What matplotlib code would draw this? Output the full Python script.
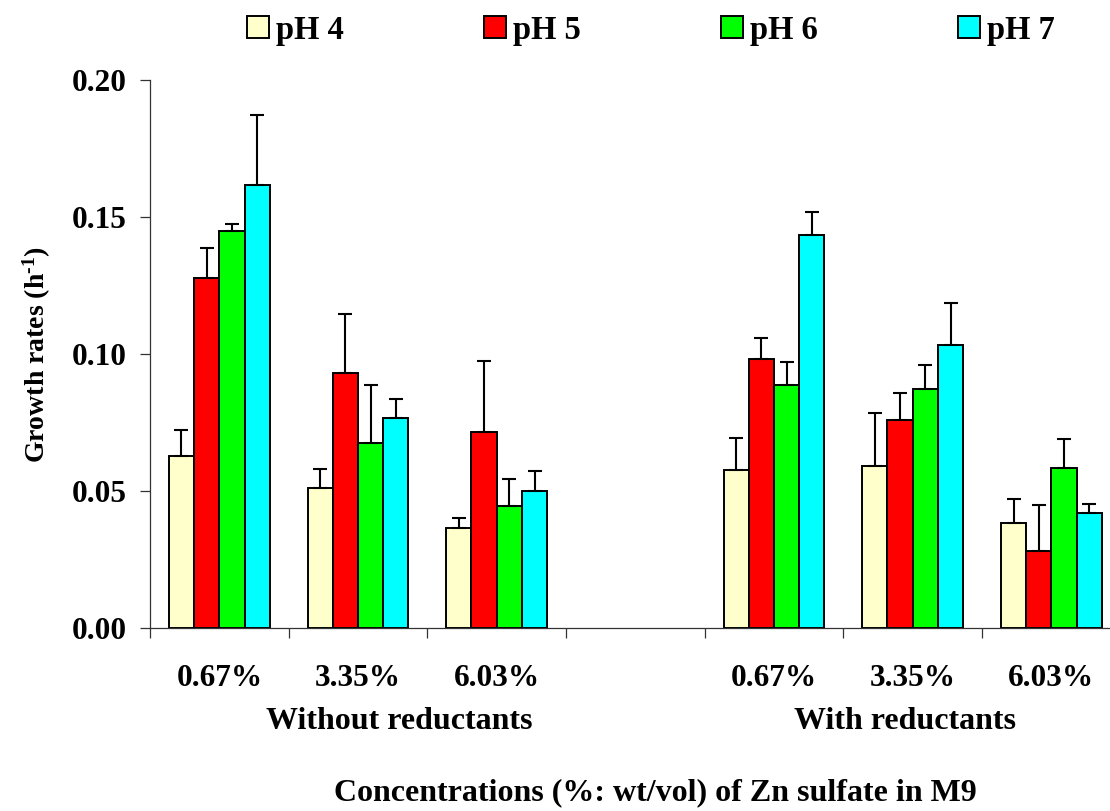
import matplotlib
matplotlib.use("Agg")
import matplotlib.pyplot as plt
import numpy as np

plt.rcParams['font.family'] = ['Liberation Serif', 'DejaVu Serif']
plt.rcParams['font.weight'] = 'bold'
plt.rcParams['mathtext.fontset'] = 'custom'
plt.rcParams['mathtext.rm'] = 'Liberation Serif:bold'
plt.rcParams['mathtext.bf'] = 'Liberation Serif:bold'
plt.rcParams['mathtext.default'] = 'bf'

series = ["pH 4", "pH 5", "pH 6", "pH 7"]
colors = ["#FFFFCC", "#FF0000", "#00FF00", "#00FFFF"]
tick_labels = ["0.67%", "3.35%", "6.03%", "", "0.67%", "3.35%", "6.03%"]
slots = [0, 1, 2, 4, 5, 6]  # slot 3 is the empty gap

values = {
    "pH 4": [0.0627, 0.0513, 0.0366, 0.0576, 0.0592, 0.0385],
    "pH 5": [0.1278, 0.0932, 0.0715, 0.0981, 0.0761, 0.0283],
    "pH 6": [0.1449, 0.0677, 0.0447, 0.0889, 0.0874, 0.0584],
    "pH 7": [0.1617, 0.0768, 0.0501, 0.1436, 0.1033, 0.0422],
}
errors = {
    "pH 4": [0.0095, 0.0068, 0.0035, 0.0118, 0.0193, 0.0086],
    "pH 5": [0.0109, 0.0215, 0.0261, 0.0079, 0.0098, 0.0165],
    "pH 6": [0.0024, 0.0209, 0.0098, 0.0084, 0.0087, 0.0108],
    "pH 7": [0.0257, 0.0070, 0.0073, 0.0083, 0.0155, 0.0033],
}
yticks = [0.00, 0.05, 0.10, 0.15, 0.20]
group_labels = ["Without reductants", "With reductants"]
xlabel = "Concentrations (%: wt/vol) of Zn sulfate in M9"
ylabel = r"Growth rates (h$^{\text{-}1}$)"

W, H = 1110, 811
fig = plt.figure(figsize=(W / 100, H / 100), dpi=100)
left, right, bottom, top = 150, 1120.7, 628.3, 80
ax = fig.add_axes([left / W, 1 - bottom / H, (right - left) / W, (bottom - top) / H])

bw = 0.182
x = np.array(slots, dtype=float)
for i, s in enumerate(series):
    pos = x + (i - 1.5) * bw
    ax.bar(pos, values[s], width=bw, color=colors[i], edgecolor="black",
           linewidth=1.4, label=s, zorder=2)
    ax.errorbar(pos, values[s], yerr=[np.zeros(len(slots)), errors[s]], fmt="none",
                ecolor="black", elinewidth=1.5, capsize=5, capthick=1.5, zorder=3)

ax.set_xlim(-0.5, 6.5)
ax.set_ylim(0, 0.20)
ax.set_yticks(yticks)
ax.set_yticklabels([f"{v:.2f}" for v in yticks])
ax.set_xticks(range(7))
ax.set_xticklabels(tick_labels)
ax.set_xticks(np.arange(-0.5, 7.0, 1.0), minor=True)
ax.tick_params(axis="x", which="major", length=0, labelsize=22.5, pad=26)
ax.tick_params(axis="x", which="minor", length=7, width=0.9, direction="out", color="#333333")
ax.tick_params(axis="y", length=7, width=0.9, labelsize=22.5, pad=10, color="#333333")
for lab in ax.get_xticklabels() + ax.get_yticklabels():
    lab.set_fontweight("bold")

for sp in ["top", "right"]:
    ax.spines[sp].set_visible(False)
for sp in ["left", "bottom"]:
    ax.spines[sp].set_linewidth(0.9)
    ax.spines[sp].set_color("#333333")

fig.text(37 / W, 1 - 355 / H, ylabel, rotation=90, ha="center", va="center",
         fontsize=20, fontweight="bold")

tr = ax.get_xaxis_transform()
ax.text(1.295, -0.17, group_labels[0], transform=tr, ha="center", va="center",
        fontsize=23, fontweight="bold")
ax.text(4.943, -0.17, group_labels[1], transform=tr, ha="center", va="center",
        fontsize=23, fontweight="bold")
fig.text(655 / W, 1 - 793 / H, xlabel, ha="center", va="center", fontsize=23, fontweight="bold")

leg = fig.legend(loc="center", bbox_to_anchor=(651 / W, 1 - 30 / H), ncol=4, frameon=False,
                 handlelength=0.66, handleheight=0.65, handletextpad=0.22,
                 columnspacing=4.3, prop={"weight": "bold", "size": 23.5})
for h in leg.legend_handles:
    h.set_linewidth(1.4)

fig.savefig("out.png", dpi=100)
